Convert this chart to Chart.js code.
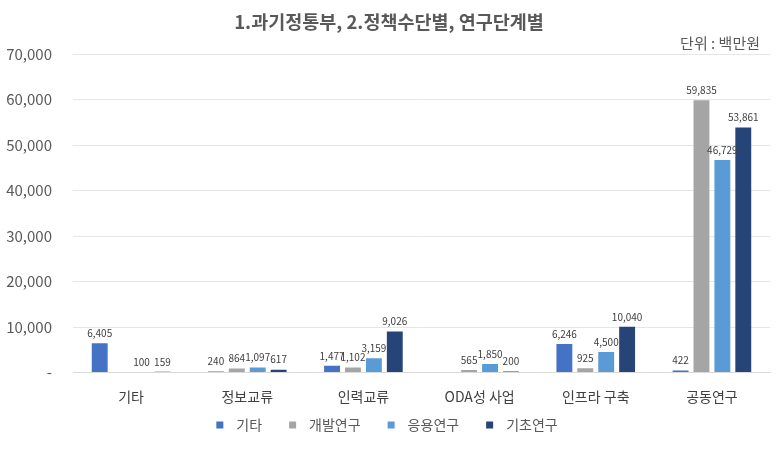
<!DOCTYPE html>
<html>
<head>
<meta charset="utf-8">
<script src="https://cdn.jsdelivr.net/npm/chart.js@4"></script>
<style>
html,body{margin:0;padding:0;background:#fff;}
#wrap{width:778px;height:453px;position:relative;}
</style>
</head>
<body>
<div id="wrap"><canvas id="c" width="778" height="453"></canvas></div>
<script>
const categories = ['기타', '정보교류', '인력교류', 'ODA성 사업', '인프라 구축', '공동연구'];
const seriesNames = ['기타', '개발연구', '응용연구', '기초연구'];
const valuesEtc = [6405, 240, 1477, null, 6246, 422];
const valuesDev = [null, 864, 1102, 565, 925, 59835];
const valuesApplied = [100, 1097, 3159, 1850, 4500, 46729];
const valuesBasic = [159, 617, 9026, 200, 10040, 53861];
const colors = ['#4472C4', '#A5A5A5', '#5B9BD5', '#264478'];
const yTicks = [0, 10000, 20000, 30000, 40000, 50000, 60000, 70000];
const titleText = '1.과기정통부, 2.정책수단별, 연구단계별';
const unitText = '단위 : 백만원';

const FONT = "'Noto Sans CJK KR', 'Noto Sans', sans-serif";
const fmt = v => v.toLocaleString('en-US');

const labelPlugin = {
  id: 'valueLabels',
  afterDatasetsDraw(chart) {
    const ctx = chart.ctx;
    ctx.save();
    ctx.font = '10px ' + FONT;
    ctx.fillStyle = '#404040';
    ctx.textAlign = 'center';
    ctx.textBaseline = 'bottom';
    chart.data.datasets.forEach((ds, i) => {
      const meta = chart.getDatasetMeta(i);
      meta.data.forEach((bar, j) => {
        const v = ds.data[j];
        if (v === null || v === undefined) return;
        ctx.fillText(fmt(v), bar.x, bar.y - 5);
      });
    });
    ctx.restore();
  }
};

const textPlugin = {
  id: 'titles',
  afterDraw(chart) {
    const ctx = chart.ctx;
    ctx.save();
    ctx.fillStyle = '#595959';
    ctx.textBaseline = 'middle';
    ctx.textAlign = 'center';
    ctx.font = 'bold 18.5px ' + FONT;
    ctx.fillText(titleText, 389, 22);
    ctx.textAlign = 'right';
    ctx.font = '15px ' + FONT;
    ctx.fillText(unitText, 760, 43);

    // legend
    ctx.font = '14px ' + FONT;
    ctx.textAlign = 'left';
    const box = 7, gapText = 13, gapItem = 27;
    const widths = seriesNames.map(n => box + gapText + ctx.measureText(n).width);
    const total = widths.reduce((a, b) => a + b, 0) + gapItem * (seriesNames.length - 1);
    let x = 387 - total / 2;
    const y = 425;
    seriesNames.forEach((n, i) => {
      ctx.fillStyle = colors[i];
      ctx.fillRect(x, y - box / 2, box, box);
      ctx.fillStyle = '#595959';
      ctx.fillText(n, x + box + gapText, y);
      x += widths[i] + gapItem;
    });
    ctx.restore();
  }
};

const data = {
  labels: categories,
  datasets: [valuesEtc, valuesDev, valuesApplied, valuesBasic].map((d, i) => ({
    label: seriesNames[i],
    data: d,
    backgroundColor: colors[i],
    borderWidth: 0,
    categoryPercentage: 0.72,
    barPercentage: 0.76
  }))
};

new Chart(document.getElementById('c'), {
  type: 'bar',
  data,
  plugins: [labelPlugin, textPlugin],
  options: {
    responsive: false,
    animation: false,
    devicePixelRatio: 1,
    layout: { padding: { top: 54, right: 8, left: 0, bottom: 44.5 } },
    plugins: {
      title: { display: false },
      tooltip: { enabled: false },
      legend: { display: false }
    },
    scales: {
      x: {
        grid: { display: false },
        border: { display: true, color: '#d9d9d9' },
        ticks: { color: '#404040', font: { family: FONT, size: 14 }, padding: 8 },
        afterFit(s) { s.height = 36; }
      },
      y: {
        min: 0, max: 70000,
        afterBuildTicks(s) { s.ticks = yTicks.map(v => ({ value: v })); },
        grid: { color: '#e6e6e6', drawTicks: false },
        border: { display: false },
        ticks: {
          color: '#595959',
          padding: 21,
          font: { family: FONT, size: 15 },
          callback: v => v === 0 ? '-' : fmt(v)
        },
        afterFit(s) { s.width = 73; }
      }
    }
  }
});
</script>
</body>
</html>
